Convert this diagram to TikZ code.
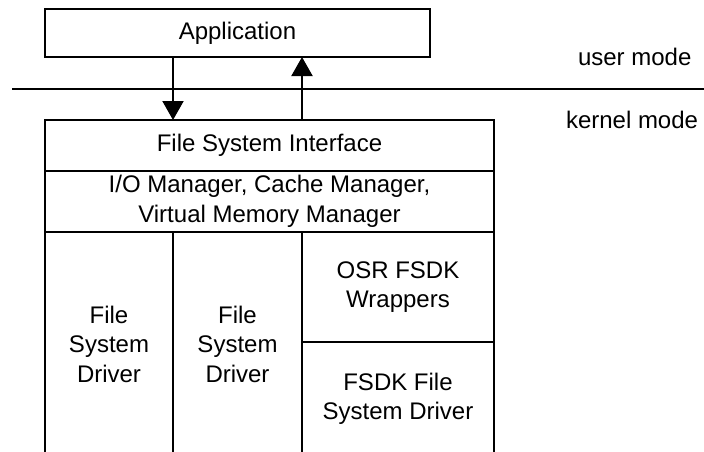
\documentclass[tikz,border=0pt]{standalone}
\usepackage{fontspec}
\setmainfont{Liberation Sans}
\usetikzlibrary{arrows.meta}
\begin{document}
\begin{tikzpicture}[x=1pt,y=-1pt,
  every node/.style={font=\fontsize{24}{29.5}\selectfont, inner sep=0pt, outer sep=0pt},
  cell/.style={draw, line width=2pt, align=center, anchor=north west},
  arr/.style={line width=2pt, -{Triangle[length=19pt,width=21pt]}},
  sep/.style={line width=2pt}]
\useasboundingbox (0,0) rectangle (704,451);
\clip (0,0) rectangle (704,451);
% application
\node[cell, minimum width=385pt, minimum height=48pt] (app) at (45,9) {Application};
% mode separator
\coordinate (l0) at (12,89);
\coordinate (l1) at (706,89);
\draw[sep] (l0) -- (l1);
\node[anchor=base west] (um) at (578,65) {user mode};
\node[anchor=base west] (km) at (566,128) {kernel mode};
% kernel stack
\node[cell, minimum width=449pt, minimum height=51pt] (fsi) at (45,120) {File System Interface};
\node[cell, minimum width=449pt, minimum height=61pt] (mgr) at (45,171) {I/O Manager, Cache Manager,\\Virtual Memory Manager};
\node[cell, minimum width=128pt, minimum height=224pt] (d1) at (45,232) {File\\System\\Driver};
\node[cell, minimum width=129pt, minimum height=224pt] (d2) at (173,232) {File\\System\\Driver};
\node[cell, minimum width=192pt, minimum height=110pt] (wrap) at (302,232) {OSR FSDK\\Wrappers};
\node[cell, minimum width=192pt, minimum height=114pt] (fsdk) at (302,342) {FSDK File\\System Driver};
% arrows
\draw[arr] (app.south -| d1.east) -- (fsi.north -| d1.east);
\draw[arr] (fsi.north -| d2.east) -- (app.south -| d2.east);
\end{tikzpicture}
\end{document}
